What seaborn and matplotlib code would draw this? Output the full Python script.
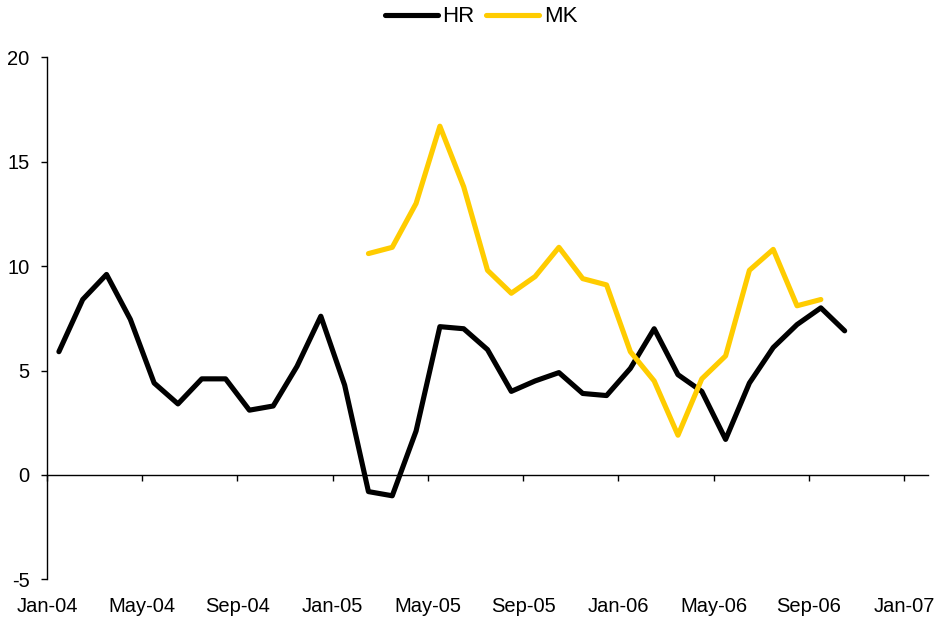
import matplotlib
matplotlib.use("Agg")
import matplotlib.pyplot as plt
import seaborn as sns
import pandas as pd
import numpy as np

# Monthly values, Jan-04 .. Oct-06
months = pd.date_range("2004-01-01", "2006-10-01", freq="MS")
hr = [5.9, 8.4, 9.6, 7.45, 4.4, 3.4, 4.6, 4.6, 3.1, 3.3, 5.2, 7.6,
      4.3, -0.8, -1.0, 2.1, 7.1, 7.0, 6.0, 4.0, 4.5, 4.9, 3.9, 3.8,
      5.1, 7.0, 4.8, 4.0, 1.7, 4.4, 6.1, 7.2, 8.0, 6.9]
mk = [None] * 13 + [10.6, 10.9, 13.0, 16.7, 13.8, 9.8, 8.7, 9.5, 10.9, 9.4, 9.1,
      5.9, 4.5, 1.9, 4.6, 5.7, 9.8, 10.8, 8.1, 8.4, None]
tick_labels = ["Jan-04", "May-04", "Sep-04", "Jan-05", "May-05", "Sep-05",
               "Jan-06", "May-06", "Sep-06", "Jan-07"]
y_ticks = [-5, 0, 5, 10, 15, 20]

sns.set_theme(style="white")
plt.rcParams["font.family"] = ["Liberation Sans", "DejaVu Sans"]
plt.rcParams["text.color"] = "black"

# month index; points sit in the middle of each month slot
idx = np.arange(len(months)) + 0.5
df = pd.DataFrame({"x": np.concatenate([idx, idx]),
                   "value": hr + mk,
                   "series": ["HR"] * len(hr) + ["MK"] * len(mk)})
df["value"] = pd.to_numeric(df["value"])

fig = plt.figure(figsize=(9.49, 6.25), dpi=100)
ax = fig.add_axes([47 / 949, 1 - 579.3 / 625, (928 - 47) / 949, (579.3 - 57.3) / 625])

sns.lineplot(data=df, x="x", y="value", hue="series",
             palette={"HR": "#000000", "MK": "#FFCC00"},
             linewidth=3.7, ax=ax, legend=True, sort=False)

ax.set_xlim(0, 37)
ax.set_ylim(-5, 20)
ax.set_xlabel("")
ax.set_ylabel("")

for s in ["top", "right"]:
    ax.spines[s].set_visible(False)
ax.spines["left"].set_color("black")
ax.spines["left"].set_linewidth(1.0)
ax.spines["bottom"].set_position(("data", 0))
ax.spines["bottom"].set_color("black")
ax.spines["bottom"].set_linewidth(1.0)

ax.set_yticks(y_ticks)
ax.set_yticklabels([str(v) for v in y_ticks], fontsize=14.5)
ax.tick_params(axis="y", direction="out", length=4.5, width=1, color="black",
               left=True, pad=8, labelcolor="black")

xt = np.arange(0, 37, 4)
ax.set_xticks(xt)
ax.tick_params(axis="x", direction="out", length=4.5, width=1, color="black",
               bottom=True, labelbottom=False)

sec = ax.secondary_xaxis("bottom")
sec.set_xticks(xt)
sec.set_xticklabels(tick_labels, fontsize=14.5)
sec.tick_params(length=0, pad=13, labelcolor="black")
sec.spines["bottom"].set_visible(False)

leg = ax.legend(loc="center", bbox_to_anchor=(481 / 949, 1 - 17 / 625),
                bbox_transform=fig.transFigure, ncol=2, frameon=False,
                fontsize=16, handlelength=2.4, handletextpad=0.2,
                columnspacing=0.5, title=None)
for t in leg.get_texts():
    t.set_color("black")

fig.savefig("out.png", dpi=100)
